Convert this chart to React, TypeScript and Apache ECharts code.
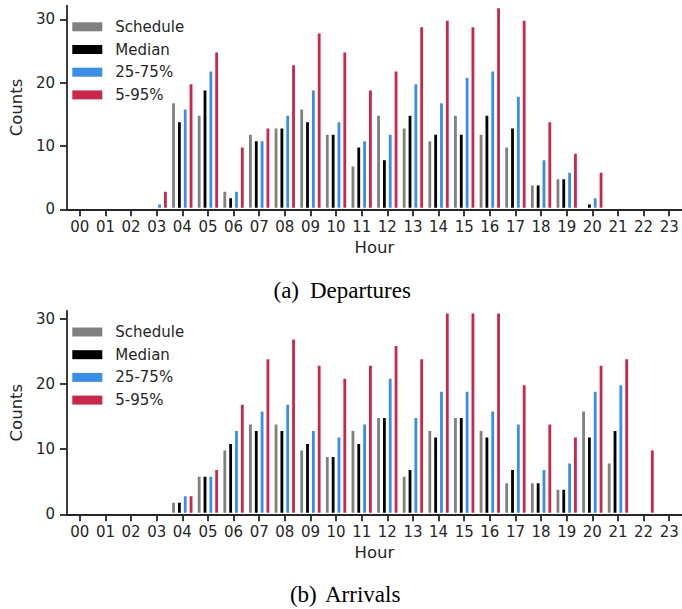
import React, { useEffect, useRef } from "react";
import * as echarts from "echarts";

const hours = ["00","01","02","03","04","05","06","07","08","09","10","11","12","13","14","15","16","17","18","19","20","21","22","23"];
const seriesNames = ["Schedule", "Median", "25-75%", "5-95%"];
const yTicks = [0, 10, 20, 30];

const depSchedule = [0,0,0,0,17,15,3,12,13,16,12,7,15,13,11,15,12,10,4,5,0,0,0,0];
const depMedian   = [0,0,0,0,14,19,2,11,13,14,12,10,8,15,12,12,15,13,4,5,1,0,0,0];
const dep2575     = [0,0,0,1,16,22,3,11,15,19,14,11,12,20,17,21,22,18,8,6,2,0,0,0];
const dep595      = [0,0,0,3,20,25,10,13,23,28,25,19,22,29,30,29,32,30,14,9,6,0,0,0];

const arrSchedule = [0,0,0,0,2,6,10,14,14,10,9,13,15,6,13,15,13,5,5,4,16,8,0,0];
const arrMedian   = [0,0,0,0,2,6,11,13,13,11,9,11,15,7,12,15,12,7,5,4,12,13,0,0];
const arr2575     = [0,0,0,0,3,6,13,16,17,13,12,14,21,15,19,19,16,14,7,8,19,20,0,0];
const arr595      = [0,0,0,0,3,7,17,24,27,23,21,23,26,24,31,31,31,20,14,12,23,24,10,0];

const colors = ["#808080", "#000000", "#3a8ee6", "#c8294b"];
const ink = "#262626";
const font = "DejaVu Sans";

function xAxisFor(gridIndex: number) {
  return {
    type: "category",
    gridIndex,
    data: hours,
    boundaryGap: true,
    z: 5,
    axisLine: { show: true, lineStyle: { color: ink, width: 1.8 } },
    axisTick: { show: true, alignWithLabel: true, length: 7, lineStyle: { color: ink, width: 1.8 } },
    axisLabel: { interval: 0, fontSize: 15, color: ink, fontFamily: font, margin: 10 },
    name: "Hour",
    nameLocation: "middle",
    nameGap: 30,
    nameTextStyle: { fontSize: 16.5, color: ink, fontFamily: font },
    splitLine: { show: false },
  };
}

function yAxisFor(gridIndex: number, max: number) {
  return {
    type: "value",
    gridIndex,
    min: 0,
    max,
    z: 5,
    axisLine: { show: true, lineStyle: { color: ink, width: 1.8 } },
    axisTick: { show: true, length: 7, customValues: yTicks, lineStyle: { color: ink, width: 1.8 } },
    axisLabel: { customValues: yTicks, fontSize: 15, color: ink, fontFamily: font, margin: 12 },
    splitLine: { show: false },
    name: "Counts",
    nameLocation: "middle",
    nameGap: 35,
    nameTextStyle: { fontSize: 16.5, color: ink, fontFamily: font },
  };
}

function legendFor(top: number) {
  return {
    orient: "vertical",
    left: 67.3,
    top,
    itemWidth: 30,
    itemHeight: 9,
    itemGap: 4.7,
    icon: "rect",
    data: seriesNames,
    itemStyle: { borderWidth: 0 },
    textStyle: { fontSize: 15, color: ink, fontFamily: font, lineHeight: 18, padding: [0, 0, 0, 8] },
  };
}

function barSeries(name: string, values: number[], color: string, axis: number) {
  return {
    type: "bar",
    name,
    xAxisIndex: axis,
    yAxisIndex: axis,
    barGap: "0%",
    barCategoryGap: "9%",
    data: values.map((v) => (v === 0 ? null : v)),
    itemStyle: { color, borderColor: "#ffffff", borderWidth: 1.5 },
  };
}

export default function App() {
  const ref = useRef<HTMLDivElement>(null);
  useEffect(() => {
    if (!ref.current) return;
    const chart = echarts.init(ref.current, undefined, { renderer: "svg" });
    const dep = [depSchedule, depMedian, dep2575, dep595];
    const arr = [arrSchedule, arrMedian, arr2575, arr595];
    chart.setOption({
      animation: false,
      backgroundColor: "#ffffff",
      grid: [
        { left: 57.7, right: -1, top: 5.7, height: 203.6 },
        { left: 57.7, right: -1, top: 311, height: 203.3 },
      ],
      xAxis: [xAxisFor(0), xAxisFor(1)],
      yAxis: [yAxisFor(0, 32.15), yAxisFor(1, 31.15)],
      legend: [legendFor(12.8), legendFor(318)],
      series: [
        ...seriesNames.map((n, i) => barSeries(n, dep[i], colors[i], 0)),
        ...seriesNames.map((n, i) => barSeries(n, arr[i], colors[i], 1)),
      ],
      graphic: [
        { type: "text", right: 682 - 299, top: 279, style: { text: "(a)", font: "23px 'Liberation Serif'", fill: "#000" } },
        { type: "text", left: 310, top: 279, style: { text: "Departures", font: "23px 'Liberation Serif'", fill: "#000" } },
        { type: "text", right: 682 - 316.7, top: 583, style: { text: "(b)", font: "23px 'Liberation Serif'", fill: "#000" } },
        { type: "text", left: 325, top: 583, style: { text: "Arrivals", font: "23px 'Liberation Serif'", fill: "#000" } },
      ],
    });
    return () => chart.dispose();
  }, []);
  return (
    <div
      ref={ref}
      style={{ position: "fixed", left: 0, top: 0, width: 682, height: 609, background: "#fff" }}
    />
  );
}
